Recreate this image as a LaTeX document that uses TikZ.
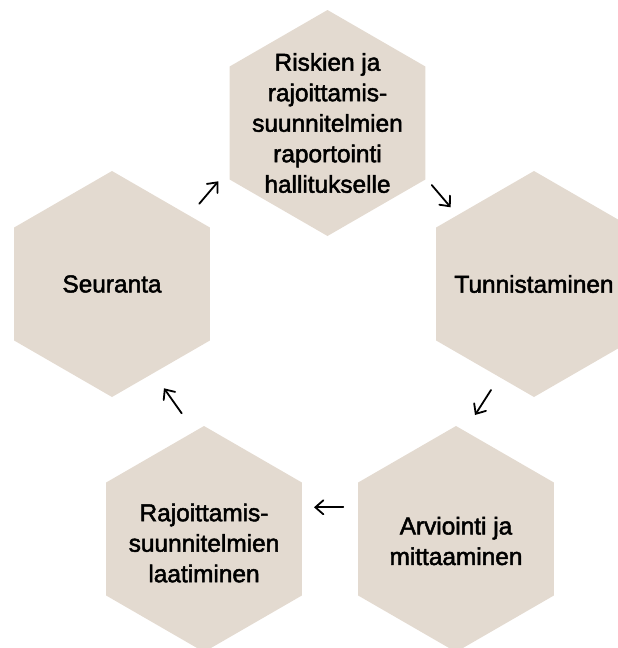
\documentclass[tikz,border=0pt]{standalone}
\usepackage{fontspec}
\setmainfont{Liberation Sans}
\newfontfamily\hexfont[FakeBold=2]{Liberation Sans}
\usetikzlibrary{shapes.geometric,arrows.meta}
\definecolor{hexfill}{RGB}{227,218,208}
\tikzset{
  hexa/.style={regular polygon, regular polygon sides=6, shape border rotate=30,
    minimum size=226pt, inner sep=0pt, fill=hexfill, draw=none},
  htext/.style={align=center, inner sep=0pt,
    font=\hexfont\fontsize{24.4}{30.5}\selectfont, text=black},
  flow/.style={line width=1.8pt, line cap=round, line join=round,
    -{Straight Barb[length=8pt,width=14pt,line cap=round]}}
}
\begin{document}
\begin{tikzpicture}[x=1pt,y=-1pt]
\useasboundingbox (0,0) rectangle (618,648);
\node[hexa] (rap) at (327.5,123) {};
\node[hexa] (tun) at (534,284) {};
\node[hexa] (arv) at (456,539) {};
\node[hexa] (raj) at (204,539) {};
\node[hexa] (seu) at (112,284) {};
\node[htext] (raptxt) at (rap.center) {Riskien ja\\rajoittamis-\\suunnitelmien\\raportointi\\hallitukselle};
\node[htext] (tuntxt) at (tun.center) {Tunnistaminen};
\node[htext] (arvtxt) at ([yshift=-2pt]arv.center) {Arviointi ja\\mittaaminen};
\node[htext] (rajtxt) at ([yshift=-4pt]raj.center) {Rajoittamis-\\suunnitelmien\\laatiminen};
\node[htext] (seutxt) at (seu.center) {Seuranta};
\coordinate (a1s) at (431.7,185);   \coordinate (a1e) at (450.7,207.3);
\coordinate (a2s) at (491,390);     \coordinate (a2e) at (475,415);
\coordinate (a3s) at (343.3,507.3); \coordinate (a3e) at (314,507.3);
\coordinate (a4s) at (181.7,413.3); \coordinate (a4e) at (164,388.3);
\coordinate (a5s) at (199.3,203.7); \coordinate (a5e) at (218.3,181.3);
\draw[flow] (a1s) -- (a1e);
\draw[flow] (a2s) -- (a2e);
\draw[flow] (a3s) -- (a3e);
\draw[flow] (a4s) -- (a4e);
\draw[flow] (a5s) -- (a5e);
\end{tikzpicture}
\end{document}
